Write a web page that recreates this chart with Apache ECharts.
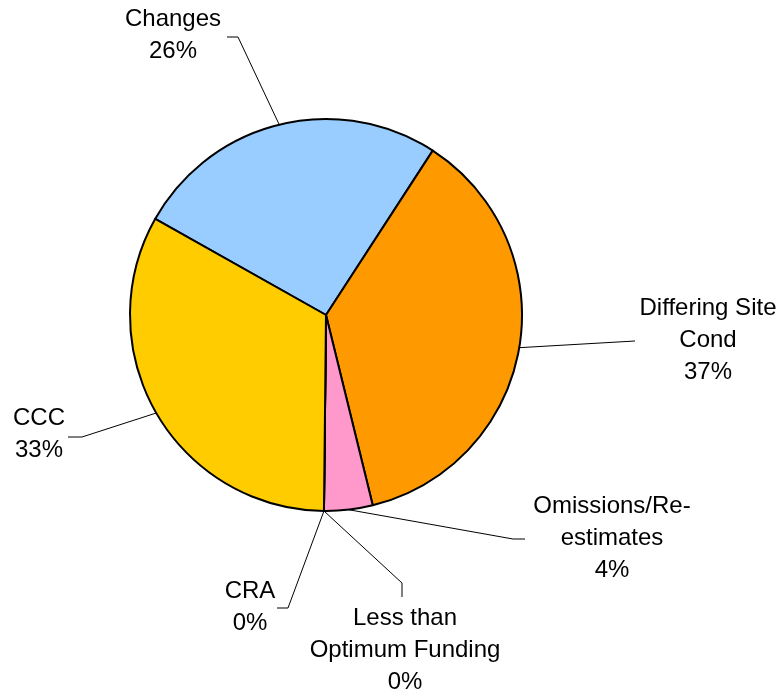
<!DOCTYPE html>
<html>
<head>
<meta charset="utf-8">
<style>
  html, body { margin: 0; padding: 0; background: #ffffff; }
  #chart { width: 780px; height: 692px; }
</style>
<script src="https://cdn.jsdelivr.net/npm/echarts@6/dist/echarts.min.js"></script>
</head>
<body>
<div id="chart"></div>
<script>
// Claim causes and their share of the total (percent)
const categories = ['Changes', 'Differing Site\nCond', 'Omissions/Re-\nestimates', 'Less than\nOptimum Funding', 'CRA', 'CCC'];
const shares = [26, 37, 4, 0, 0, 33];
const sliceColors = ['#99CCFF', '#FF9900', '#FF99CC', '#FF99CC', '#CCFFCC', '#FFCC00'];

// Pie geometry
const pieCenter = [326, 315];
const pieRadius = 196;
const startAngle = 150.6;

// Label anchors and leader-line bends, one per category
const labelAnchors = [[173, 35], [708, 340], [612, 538], [405, 650], [250, 607], [39, 434]];
const leaderBends = [
  [[238, 37], [227, 37]],
  [[635, 341], [635, 341]],
  [[513, 539], [525, 539]],
  [[402, 583], [402, 597]],
  [[288, 608], [277, 608]],
  [[82, 437], [68, 437]]
];

const total = shares.reduce((a, b) => a + b, 0);

// Point on the rim at the middle of slice i (fallback when the library gives none)
function rimPoint(i) {
  let cum = 0;
  for (let k = 0; k < i; k++) cum += shares[k];
  const mid = (cum + shares[i] / 2) / total * 2 * Math.PI;
  const a = startAngle * Math.PI / 180 - mid;
  return [pieCenter[0] + pieRadius * Math.cos(a), pieCenter[1] - pieRadius * Math.sin(a)];
}

const chart = echarts.init(document.getElementById('chart'), null, { renderer: 'canvas' });

chart.setOption({
  animation: false,
  backgroundColor: '#ffffff',
  series: [{
    type: 'pie',
    center: pieCenter,
    radius: pieRadius,
    startAngle: startAngle,
    clockwise: true,
    avoidLabelOverlap: false,
    silent: true,
    data: categories.map((name, i) => ({
      name: name,
      value: shares[i],
      itemStyle: { color: sliceColors[i] }
    })),
    itemStyle: { borderColor: '#000000', borderWidth: 2 },
    label: {
      show: true,
      position: 'outside',
      formatter: '{b}\n{c}%',
      fontFamily: 'Liberation Sans, Arial, sans-serif',
      fontSize: 24,
      lineHeight: 32,
      color: '#000000',
      align: 'center'
    },
    labelLine: {
      show: true,
      length: 20,
      length2: 20,
      smooth: false,
      lineStyle: { color: '#000000', width: 1 }
    },
    labelLayout: function (p) {
      const i = p.dataIndex;
      const start = (p.labelLinePoints && p.labelLinePoints[0]) ? p.labelLinePoints[0] : rimPoint(i);
      return {
        x: labelAnchors[i][0],
        y: labelAnchors[i][1],
        align: 'center',
        verticalAlign: 'middle',
        labelLinePoints: [start, leaderBends[i][0], leaderBends[i][1]]
      };
    }
  }]
});
</script>
</body>
</html>
